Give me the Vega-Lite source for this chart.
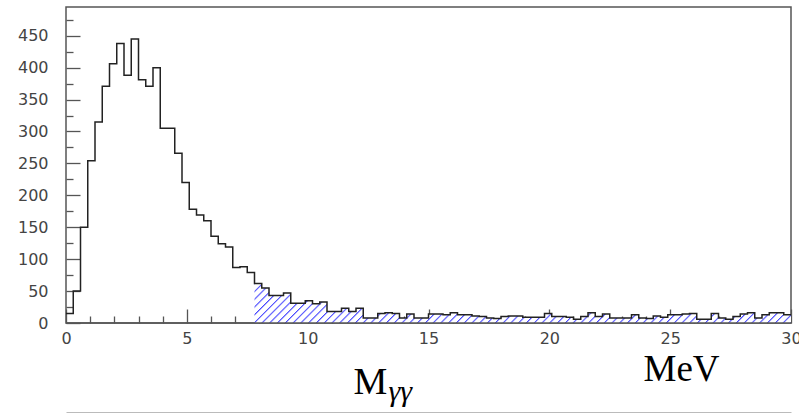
{
  "$schema": "https://vega.github.io/schema/vega-lite/v6.json",
  "width": 725,
  "height": 316,
  "autosize": {"type": "none"},
  "padding": {"left": 66, "top": 7, "right": 8, "bottom": 90},
  "background": "white",
  "config": {"view": {"stroke": "#555", "strokeWidth": 1.5}},
  "datasets": {
    "bins": [
      {"lo":0,"hi":0.3,"n":15},{"lo":0.3,"hi":0.6,"n":50},{"lo":0.6,"hi":0.9,"n":150},{"lo":0.9,"hi":1.2,"n":254},{"lo":1.2,"hi":1.5,"n":315},
      {"lo":1.5,"hi":1.8,"n":371},{"lo":1.8,"hi":2.1,"n":406},{"lo":2.1,"hi":2.4,"n":438},{"lo":2.4,"hi":2.7,"n":388},{"lo":2.7,"hi":3,"n":445},
      {"lo":3,"hi":3.3,"n":381},{"lo":3.3,"hi":3.6,"n":371},{"lo":3.6,"hi":3.9,"n":400},{"lo":3.9,"hi":4.2,"n":305},{"lo":4.2,"hi":4.5,"n":305},
      {"lo":4.5,"hi":4.8,"n":266},{"lo":4.8,"hi":5.1,"n":220},{"lo":5.1,"hi":5.4,"n":178},{"lo":5.4,"hi":5.7,"n":169},{"lo":5.7,"hi":6,"n":160},
      {"lo":6,"hi":6.3,"n":136},{"lo":6.3,"hi":6.6,"n":124},{"lo":6.6,"hi":6.9,"n":119},{"lo":6.9,"hi":7.2,"n":87},{"lo":7.2,"hi":7.5,"n":88},
      {"lo":7.5,"hi":7.8,"n":79},{"lo":7.8,"hi":8.1,"n":62},{"lo":8.1,"hi":8.4,"n":55},{"lo":8.4,"hi":8.7,"n":43},{"lo":8.7,"hi":9,"n":43},
      {"lo":9,"hi":9.3,"n":47},{"lo":9.3,"hi":9.6,"n":31},{"lo":9.6,"hi":9.9,"n":31},{"lo":9.9,"hi":10.2,"n":35},{"lo":10.2,"hi":10.5,"n":30},
      {"lo":10.5,"hi":10.8,"n":33},{"lo":10.8,"hi":11.1,"n":18},{"lo":11.1,"hi":11.4,"n":18},{"lo":11.4,"hi":11.7,"n":23},{"lo":11.7,"hi":12,"n":18},
      {"lo":12,"hi":12.3,"n":23},{"lo":12.3,"hi":12.6,"n":8},{"lo":12.6,"hi":12.9,"n":8},{"lo":12.9,"hi":13.2,"n":15},{"lo":13.2,"hi":13.5,"n":16},
      {"lo":13.5,"hi":13.8,"n":15},{"lo":13.8,"hi":14.1,"n":8},{"lo":14.1,"hi":14.4,"n":14},{"lo":14.4,"hi":14.7,"n":8},{"lo":14.7,"hi":15,"n":8},
      {"lo":15,"hi":15.3,"n":14},{"lo":15.3,"hi":15.6,"n":14},{"lo":15.6,"hi":15.9,"n":13},{"lo":15.9,"hi":16.2,"n":16},{"lo":16.2,"hi":16.5,"n":13},
      {"lo":16.5,"hi":16.8,"n":13},{"lo":16.8,"hi":17.1,"n":11},{"lo":17.1,"hi":17.4,"n":10},{"lo":17.4,"hi":17.7,"n":8},{"lo":17.7,"hi":18,"n":7},
      {"lo":18,"hi":18.3,"n":10},{"lo":18.3,"hi":18.6,"n":11},{"lo":18.6,"hi":18.9,"n":11},{"lo":18.9,"hi":19.2,"n":9},{"lo":19.2,"hi":19.5,"n":9},
      {"lo":19.5,"hi":19.8,"n":9},{"lo":19.8,"hi":20.1,"n":15},{"lo":20.1,"hi":20.4,"n":10},{"lo":20.4,"hi":20.7,"n":10},{"lo":20.7,"hi":21,"n":9},
      {"lo":21,"hi":21.3,"n":6},{"lo":21.3,"hi":21.6,"n":10},{"lo":21.6,"hi":21.9,"n":16},{"lo":21.9,"hi":22.2,"n":10},{"lo":22.2,"hi":22.5,"n":14},
      {"lo":22.5,"hi":22.8,"n":8},{"lo":22.8,"hi":23.1,"n":8},{"lo":23.1,"hi":23.4,"n":8},{"lo":23.4,"hi":23.7,"n":13},{"lo":23.7,"hi":24,"n":8},
      {"lo":24,"hi":24.3,"n":7},{"lo":24.3,"hi":24.6,"n":11},{"lo":24.6,"hi":24.9,"n":9},{"lo":24.9,"hi":25.2,"n":13},{"lo":25.2,"hi":25.5,"n":13},
      {"lo":25.5,"hi":25.8,"n":14},{"lo":25.8,"hi":26.1,"n":15},{"lo":26.1,"hi":26.4,"n":6},{"lo":26.4,"hi":26.7,"n":6},{"lo":26.7,"hi":27,"n":15},
      {"lo":27,"hi":27.3,"n":8},{"lo":27.3,"hi":27.6,"n":6},{"lo":27.6,"hi":27.9,"n":10},{"lo":27.9,"hi":28.2,"n":14},{"lo":28.2,"hi":28.5,"n":16},
      {"lo":28.5,"hi":28.8,"n":8},{"lo":28.8,"hi":29.1,"n":13},{"lo":29.1,"hi":29.4,"n":16},{"lo":29.4,"hi":29.7,"n":16},{"lo":29.7,"hi":30,"n":13}
    ]
  },
  "layer": [
    {
      "data": {"name": "bins"},
      "transform": [
        {"filter": "datum.lo >= 7.75"},
        {"fold": ["lo", "hi"], "as": ["edge", "x"]}
      ],
      "mark": {
        "type": "area",
        "interpolate": "linear",
        "fill": {
          "gradient": "linear", "x1": 0, "y1": 0, "x2": 1.068, "y2": 0.0788,
          "stops": [
            {"offset":0,"color":"#44f"},{"offset":0.0035,"color":"#fff"},{"offset":0.012,"color":"#fff"},
            {"offset":0.0135,"color":"#44f"},{"offset":0.017,"color":"#fff"},{"offset":0.0255,"color":"#fff"},
            {"offset":0.027,"color":"#44f"},{"offset":0.0305,"color":"#fff"},{"offset":0.039,"color":"#fff"},
            {"offset":0.0405,"color":"#44f"},{"offset":0.044,"color":"#fff"},{"offset":0.0525,"color":"#fff"},
            {"offset":0.054,"color":"#44f"},{"offset":0.0575,"color":"#fff"},{"offset":0.066,"color":"#fff"},
            {"offset":0.0675,"color":"#44f"},{"offset":0.071,"color":"#fff"},{"offset":0.0795,"color":"#fff"},
            {"offset":0.081,"color":"#44f"},{"offset":0.0845,"color":"#fff"},{"offset":0.093,"color":"#fff"},
            {"offset":0.0945,"color":"#44f"},{"offset":0.098,"color":"#fff"},{"offset":0.1065,"color":"#fff"},
            {"offset":0.108,"color":"#44f"},{"offset":0.1115,"color":"#fff"},{"offset":0.12,"color":"#fff"},
            {"offset":0.1215,"color":"#44f"},{"offset":0.125,"color":"#fff"},{"offset":0.1335,"color":"#fff"},
            {"offset":0.135,"color":"#44f"},{"offset":0.1385,"color":"#fff"},{"offset":0.147,"color":"#fff"},
            {"offset":0.1485,"color":"#44f"},{"offset":0.152,"color":"#fff"},{"offset":0.1605,"color":"#fff"},
            {"offset":0.162,"color":"#44f"},{"offset":0.1655,"color":"#fff"},{"offset":0.174,"color":"#fff"},
            {"offset":0.1755,"color":"#44f"},{"offset":0.179,"color":"#fff"},{"offset":0.1875,"color":"#fff"},
            {"offset":0.189,"color":"#44f"},{"offset":0.1925,"color":"#fff"},{"offset":0.201,"color":"#fff"},
            {"offset":0.2025,"color":"#44f"},{"offset":0.206,"color":"#fff"},{"offset":0.2145,"color":"#fff"},
            {"offset":0.216,"color":"#44f"},{"offset":0.2195,"color":"#fff"},{"offset":0.228,"color":"#fff"},
            {"offset":0.2295,"color":"#44f"},{"offset":0.233,"color":"#fff"},{"offset":0.2415,"color":"#fff"},
            {"offset":0.243,"color":"#44f"},{"offset":0.2465,"color":"#fff"},{"offset":0.255,"color":"#fff"},
            {"offset":0.2565,"color":"#44f"},{"offset":0.26,"color":"#fff"},{"offset":0.2685,"color":"#fff"},
            {"offset":0.27,"color":"#44f"},{"offset":0.2735,"color":"#fff"},{"offset":0.282,"color":"#fff"},
            {"offset":0.2835,"color":"#44f"},{"offset":0.287,"color":"#fff"},{"offset":0.2955,"color":"#fff"},
            {"offset":0.297,"color":"#44f"},{"offset":0.3005,"color":"#fff"},{"offset":0.309,"color":"#fff"},
            {"offset":0.3105,"color":"#44f"},{"offset":0.314,"color":"#fff"},{"offset":0.3225,"color":"#fff"},
            {"offset":0.324,"color":"#44f"},{"offset":0.3275,"color":"#fff"},{"offset":0.336,"color":"#fff"},
            {"offset":0.3375,"color":"#44f"},{"offset":0.341,"color":"#fff"},{"offset":0.3495,"color":"#fff"},
            {"offset":0.351,"color":"#44f"},{"offset":0.3545,"color":"#fff"},{"offset":0.363,"color":"#fff"},
            {"offset":0.3645,"color":"#44f"},{"offset":0.368,"color":"#fff"},{"offset":0.3765,"color":"#fff"},
            {"offset":0.378,"color":"#44f"},{"offset":0.3815,"color":"#fff"},{"offset":0.39,"color":"#fff"},
            {"offset":0.3915,"color":"#44f"},{"offset":0.395,"color":"#fff"},{"offset":0.4035,"color":"#fff"},
            {"offset":0.405,"color":"#44f"},{"offset":0.4085,"color":"#fff"},{"offset":0.417,"color":"#fff"},
            {"offset":0.4185,"color":"#44f"},{"offset":0.422,"color":"#fff"},{"offset":0.4305,"color":"#fff"},
            {"offset":0.432,"color":"#44f"},{"offset":0.4355,"color":"#fff"},{"offset":0.444,"color":"#fff"},
            {"offset":0.4455,"color":"#44f"},{"offset":0.449,"color":"#fff"},{"offset":0.4575,"color":"#fff"},
            {"offset":0.459,"color":"#44f"},{"offset":0.4625,"color":"#fff"},{"offset":0.471,"color":"#fff"},
            {"offset":0.4725,"color":"#44f"},{"offset":0.476,"color":"#fff"},{"offset":0.4845,"color":"#fff"},
            {"offset":0.486,"color":"#44f"},{"offset":0.4895,"color":"#fff"},{"offset":0.498,"color":"#fff"},
            {"offset":0.4995,"color":"#44f"},{"offset":0.503,"color":"#fff"},{"offset":0.5115,"color":"#fff"},
            {"offset":0.513,"color":"#44f"},{"offset":0.5165,"color":"#fff"},{"offset":0.525,"color":"#fff"},
            {"offset":0.5265,"color":"#44f"},{"offset":0.53,"color":"#fff"},{"offset":0.5385,"color":"#fff"},
            {"offset":0.54,"color":"#44f"},{"offset":0.5435,"color":"#fff"},{"offset":0.552,"color":"#fff"},
            {"offset":0.5535,"color":"#44f"},{"offset":0.557,"color":"#fff"},{"offset":0.5655,"color":"#fff"},
            {"offset":0.567,"color":"#44f"},{"offset":0.5705,"color":"#fff"},{"offset":0.579,"color":"#fff"},
            {"offset":0.5805,"color":"#44f"},{"offset":0.584,"color":"#fff"},{"offset":0.5925,"color":"#fff"},
            {"offset":0.594,"color":"#44f"},{"offset":0.5975,"color":"#fff"},{"offset":0.606,"color":"#fff"},
            {"offset":0.6075,"color":"#44f"},{"offset":0.611,"color":"#fff"},{"offset":0.6195,"color":"#fff"},
            {"offset":0.621,"color":"#44f"},{"offset":0.6245,"color":"#fff"},{"offset":0.633,"color":"#fff"},
            {"offset":0.6345,"color":"#44f"},{"offset":0.638,"color":"#fff"},{"offset":0.6465,"color":"#fff"},
            {"offset":0.648,"color":"#44f"},{"offset":0.6515,"color":"#fff"},{"offset":0.66,"color":"#fff"},
            {"offset":0.6615,"color":"#44f"},{"offset":0.665,"color":"#fff"},{"offset":0.6735,"color":"#fff"},
            {"offset":0.675,"color":"#44f"},{"offset":0.6785,"color":"#fff"},{"offset":0.687,"color":"#fff"},
            {"offset":0.6885,"color":"#44f"},{"offset":0.692,"color":"#fff"},{"offset":0.7005,"color":"#fff"},
            {"offset":0.702,"color":"#44f"},{"offset":0.7055,"color":"#fff"},{"offset":0.714,"color":"#fff"},
            {"offset":0.7155,"color":"#44f"},{"offset":0.719,"color":"#fff"},{"offset":0.7275,"color":"#fff"},
            {"offset":0.729,"color":"#44f"},{"offset":0.7325,"color":"#fff"},{"offset":0.741,"color":"#fff"},
            {"offset":0.7425,"color":"#44f"},{"offset":0.746,"color":"#fff"},{"offset":0.7545,"color":"#fff"},
            {"offset":0.756,"color":"#44f"},{"offset":0.7595,"color":"#fff"},{"offset":0.768,"color":"#fff"},
            {"offset":0.7695,"color":"#44f"},{"offset":0.773,"color":"#fff"},{"offset":0.7815,"color":"#fff"},
            {"offset":0.783,"color":"#44f"},{"offset":0.7865,"color":"#fff"},{"offset":0.795,"color":"#fff"},
            {"offset":0.7965,"color":"#44f"},{"offset":0.8,"color":"#fff"},{"offset":0.8085,"color":"#fff"},
            {"offset":0.81,"color":"#44f"},{"offset":0.8135,"color":"#fff"},{"offset":0.822,"color":"#fff"},
            {"offset":0.8235,"color":"#44f"},{"offset":0.827,"color":"#fff"},{"offset":0.8355,"color":"#fff"},
            {"offset":0.837,"color":"#44f"},{"offset":0.8405,"color":"#fff"},{"offset":0.849,"color":"#fff"},
            {"offset":0.8505,"color":"#44f"},{"offset":0.854,"color":"#fff"},{"offset":0.8625,"color":"#fff"},
            {"offset":0.864,"color":"#44f"},{"offset":0.8675,"color":"#fff"},{"offset":0.876,"color":"#fff"},
            {"offset":0.8775,"color":"#44f"},{"offset":0.881,"color":"#fff"},{"offset":0.8895,"color":"#fff"},
            {"offset":0.891,"color":"#44f"},{"offset":0.8945,"color":"#fff"},{"offset":0.903,"color":"#fff"},
            {"offset":0.9045,"color":"#44f"},{"offset":0.908,"color":"#fff"},{"offset":0.9165,"color":"#fff"},
            {"offset":0.918,"color":"#44f"},{"offset":0.9215,"color":"#fff"},{"offset":0.93,"color":"#fff"},
            {"offset":0.9315,"color":"#44f"},{"offset":0.935,"color":"#fff"},{"offset":0.9435,"color":"#fff"},
            {"offset":0.945,"color":"#44f"},{"offset":0.9485,"color":"#fff"},{"offset":0.957,"color":"#fff"},
            {"offset":0.9585,"color":"#44f"},{"offset":0.962,"color":"#fff"},{"offset":0.9705,"color":"#fff"},
            {"offset":0.972,"color":"#44f"},{"offset":0.9755,"color":"#fff"},{"offset":0.984,"color":"#fff"},
            {"offset":0.9855,"color":"#44f"},{"offset":0.989,"color":"#fff"},{"offset":0.9975,"color":"#fff"},
            {"offset":0.999,"color":"#44f"},{"offset":1,"color":"#fff"}
          ]
        }
      },
      "encoding": {
        "x": {
          "field": "x", "type": "quantitative",
          "scale": {"domain": [0, 30], "nice": false, "zero": false},
          "axis": {
            "orient": "bottom",
            "values": [1,2,3,4,6,7,8,9,11,12,13,14,16,17,18,19,21,22,23,24,26,27,28,29],
            "domain": false, "grid": false, "labels": false,
            "tickSize": -7, "tickColor": "#555", "tickWidth": 1.3,
            "title": "γγ",
            "titleFont": "Liberation Serif", "titleFontSize": 30, "titleFontStyle": "italic",
            "titleFontWeight": "normal", "titleColor": "#000",
            "titleX": 322, "titleY": 77, "titleAlign": "left", "titleBaseline": "alphabetic", "titleAngle": 0
          }
        },
        "y": {
          "field": "n", "type": "quantitative", "stack": null,
          "scale": {"domain": [0, 495], "nice": false},
          "axis": {
            "orient": "left",
            "values": [25,75,125,175,225,275,325,375,425,475],
            "domain": false, "grid": false, "labels": false,
            "tickSize": -7, "tickColor": "#555", "tickWidth": 1.3,
            "title": null
          }
        }
      }
    },
    {
      "data": {"name": "bins"},
      "transform": [
        {"fold": ["lo", "hi"], "as": ["edge", "x"]}
      ],
      "mark": {"type": "line", "interpolate": "linear", "color": "#222", "strokeWidth": 1.5},
      "encoding": {
        "x": {
          "field": "x", "type": "quantitative",
          "scale": {"domain": [0, 30], "nice": false, "zero": false},
          "axis": {
            "orient": "bottom",
            "values": [0,5,10,15,20,25,30],
            "domain": false, "grid": false,
            "tickSize": -14, "tickColor": "#555", "tickWidth": 1.3,
            "labelPadding": 21, "labelFlush": false, "labelOverlap": false, "labelBound": false,
            "labelFont": "DejaVu Sans", "labelFontSize": 16, "labelColor": "#444",
            "title": "M",
            "titleFont": "Liberation Serif", "titleFontSize": 38, "titleFontWeight": "normal", "titleColor": "#000",
            "titleX": 287, "titleY": 70, "titleAlign": "left", "titleBaseline": "alphabetic", "titleAngle": 0
          }
        },
        "y": {
          "field": "n", "type": "quantitative", "stack": null,
          "scale": {"domain": [0, 495], "nice": false},
          "axis": {
            "orient": "left",
            "values": [0,50,100,150,200,250,300,350,400,450],
            "domain": false, "grid": false,
            "tickSize": -14, "tickColor": "#555", "tickWidth": 1.3,
            "labelPadding": 32, "labelFlush": false, "labelOverlap": false, "labelBound": false,
            "labelFont": "DejaVu Sans", "labelFontSize": 16, "labelColor": "#444",
            "title": "MeV",
            "titleFont": "Liberation Serif", "titleFontSize": 37, "titleFontWeight": "normal", "titleColor": "#000",
            "titleX": 577, "titleY": 373, "titleAlign": "left", "titleBaseline": "alphabetic", "titleAngle": 0
          }
        }
      }
    },
    {
      "data": {"values": [{}]},
      "mark": {"type": "rule", "color": "#555", "strokeWidth": 1.5},
      "encoding": {
        "x": {
          "datum": 0, "type": "quantitative",
          "scale": {"domain": [0, 30], "nice": false, "zero": false},
          "axis": {
            "orient": "bottom", "offset": 89,
            "domain": true, "domainColor": "#bbb", "domainWidth": 1,
            "ticks": false, "labels": false, "grid": false, "title": null
          }
        },
        "x2": {"datum": 30},
        "y": {"datum": 0, "type": "quantitative", "axis": null}
      }
    }
  ],
  "resolve": {"axis": {"x": "independent", "y": "independent"}}
}
